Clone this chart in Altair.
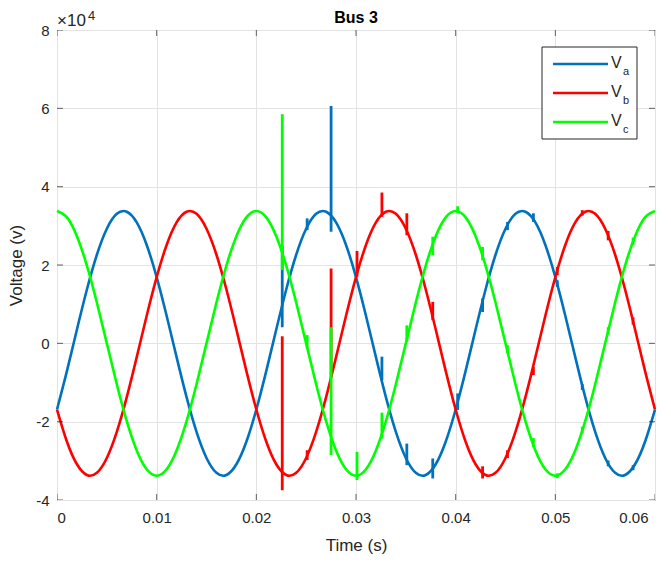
import altair as alt
import pandas as pd

# ---------------- data ----------------
t = [round(i * 0.001, 3) for i in range(61)]

va = [-16900, -7030, 3530, 13750, 22620, 29270, 33060, 33610, 30880, 25120,
      16900, 7030, -3530, -13750, -22620, -29270, -33060, -33610, -30880, -25120,
      -16900, -7030, 3530, 13750, 22620, 29270, 33060, 33610, 30880, 25120,
      16900, 7030, -3530, -13750, -22620, -29270, -33060, -33610, -30880, -25120,
      -16900, -7030, 3530, 13750, 22620, 29270, 33060, 33610, 30880, 25120,
      16900, 7030, -3530, -13750, -22620, -29270, -33060, -33610, -30880, -25120,
      -16900]
vb = [-16900, -25120, -30880, -33610, -33060, -29270, -22620, -13750, -3530, 7030,
      16900, 25120, 30880, 33610, 33060, 29270, 22620, 13750, 3530, -7030,
      -16900, -25120, -30880, -33610, -33060, -29270, -22620, -13750, -3530, 7030,
      16900, 25120, 30880, 33610, 33060, 29270, 22620, 13750, 3530, -7030,
      -16900, -25120, -30880, -33610, -33060, -29270, -22620, -13750, -3530, 7030,
      16900, 25120, 30880, 33610, 33060, 29270, 22620, 13750, 3530, -7030,
      -16900]
vc = [33800, 32150, 27340, 19870, 10440, 0, -10440, -19870, -27340, -32150,
      -33800, -32150, -27340, -19870, -10440, 0, 10440, 19870, 27340, 32150,
      33800, 32150, 27340, 19870, 10440, 0, -10440, -19870, -27340, -32150,
      -33800, -32150, -27340, -19870, -10440, 0, 10440, 19870, 27340, 32150,
      33800, 32150, 27340, 19870, 10440, 0, -10440, -19870, -27340, -32150,
      -33800, -32150, -27340, -19870, -10440, 0, 10440, 19870, 27340, 32150,
      33800]

# switching transients: (time, from, to)
spk_a_t  = [0.0226, 0.0251, 0.0275, 0.0326, 0.0351, 0.0377, 0.0402, 0.0427, 0.0452, 0.0478, 0.0502, 0.0527, 0.0553, 0.0578]
spk_a_y1 = [4100, 28900, 28500, -9400, -31100, -34500, -17000, 8000, 28900, 31000, 14400, -11900, -31400, -32400]
spk_a_y2 = [25000, 31900, 60600, -3400, -25600, -29400, -12800, 11500, 31000, 33200, 16100, -10400, -29900, -31100]

spk_b_t  = [0.0226, 0.0251, 0.0275, 0.0301, 0.0326, 0.0351, 0.0377, 0.0427, 0.0452, 0.0478, 0.0502, 0.0527, 0.0553, 0.0578]
spk_b_y1 = [-37500, -29800, -8750, 17000, 32300, 27600, 5900, -34500, -29300, -8100, 17400, 32600, 26300, 4800]
spk_b_y2 = [1800, -27300, 19100, 23600, 38500, 33200, 10600, -31400, -27300, -6000, 19500, 34000, 28700, 6600]

spk_c_t  = [0.0226, 0.0251, 0.0275, 0.0301, 0.0326, 0.0351, 0.0377, 0.0402, 0.0427, 0.0452, 0.0478, 0.0502, 0.0527, 0.0553, 0.0578]
spk_c_y1 = [18700, -1300, -28500, -34900, -24300, 400, 22500, 33200, 21200, -2500, -26500, -34400, -23000, 2300, 25100]
spk_c_y2 = [58500, 2100, 4100, -27700, -17700, 4600, 27200, 35000, 24600, -500, -24200, -33200, -21300, 4100, 27000]

x_ticks = [0, 0.01, 0.02, 0.03, 0.04, 0.05, 0.06]
y_ticks = [-40000, -20000, 0, 20000, 40000, 60000, 80000]

names = ["a", "b", "c"]
colors = ["#0072BD", "#FF0000", "#00FF00"]
title_text = "Bus 3"

# ---------------- chart ----------------
W, H = 598, 470
FONT = "Liberation Sans"
TXT = "#262626"

xs = alt.Scale(domain=[0, 0.06], nice=False, zero=False)
ys = alt.Scale(domain=[-40000, 80000], nice=False, zero=False)

X = alt.X("t:Q", scale=xs,
          axis=alt.Axis(values=x_ticks, title="Time (s)",
                        labelExpr="datum.value == 0 ? '0' : format(datum.value, '.2f')",
                        labelOffset={"condition": {"test": "datum.value > 0.055", "value": -7}, "value": 0}))
Y = alt.Y("v:Q", scale=ys,
          axis=alt.Axis(values=y_ticks, title="Voltage (v)",
                        labelExpr="'' + (datum.value / 10000)"))

layers = []
series = [va, vb, vc]
spikes = [(spk_a_t, spk_a_y1, spk_a_y2), (spk_b_t, spk_b_y1, spk_b_y2), (spk_c_t, spk_c_y1, spk_c_y2)]
for i in range(3):
    dfl = pd.DataFrame({"t": t, "v": series[i]})
    line = alt.Chart(dfl).mark_line(color=colors[i], strokeWidth=2.6, interpolate="natural").encode(x=X, y=Y)
    st, s1, s2 = spikes[i]
    dfs = pd.DataFrame({"t": st, "v": s1, "v2": s2})
    rule = alt.Chart(dfs).mark_rule(color=colors[i], strokeWidth=2.8).encode(
        x=alt.X("t:Q", scale=xs), y=alt.Y("v:Q", scale=ys), y2="v2:Q")
    layers += [line, rule]

# inward tick marks (MATLAB style), clipped to the plot box
dxt = pd.DataFrame({"t": x_ticks})
dyt = pd.DataFrame({"v": y_ticks})
for yy in [0, H]:
    layers.append(alt.Chart(dxt).mark_tick(orient="vertical", size=12, thickness=1, color=TXT, clip=True)
                  .encode(x=alt.X("t:Q", scale=xs), y=alt.value(yy)))
for xx in [0, W]:
    layers.append(alt.Chart(dyt).mark_tick(orient="horizontal", size=12, thickness=1, color=TXT, clip=True)
                  .encode(y=alt.Y("v:Q", scale=ys), x=alt.value(xx)))

one = pd.DataFrame({"k": [0]})
# title
layers.append(alt.Chart(one).mark_text(text=title_text, align="center", baseline="alphabetic",
                                       font=FONT, fontSize=16, fontWeight="bold", color="black")
              .encode(x=alt.value(W / 2), y=alt.value(-7)))
# exponent label
layers.append(alt.Chart(one).mark_text(text="×10", align="left", baseline="alphabetic",
                                       font=FONT, fontSize=17, color=TXT)
              .encode(x=alt.value(0), y=alt.value(-4)))
layers.append(alt.Chart(one).mark_text(text="4", align="left", baseline="alphabetic",
                                       font=FONT, fontSize=13, color=TXT)
              .encode(x=alt.value(31), y=alt.value(-10)))

# legend box
layers.append(alt.Chart(one).mark_rect(fill="white", stroke=TXT, strokeWidth=1)
              .encode(x=alt.value(485), x2=alt.value(580), y=alt.value(17), y2=alt.value(109)))
leg_y = [34, 63, 92]
for i in range(3):
    layers.append(alt.Chart(one).mark_rule(color=colors[i], strokeWidth=2.6)
                  .encode(x=alt.value(496), x2=alt.value(551), y=alt.value(leg_y[i])))
    layers.append(alt.Chart(one).mark_text(text="V", align="left", baseline="middle",
                                           font=FONT, fontSize=16, color=TXT)
                  .encode(x=alt.value(554), y=alt.value(leg_y[i] - 1)))
    layers.append(alt.Chart(one).mark_text(text=names[i], align="left", baseline="middle",
                                           font=FONT, fontSize=11, color=TXT)
                  .encode(x=alt.value(566), y=alt.value(leg_y[i] + 8)))

chart = alt.layer(*layers).properties(
    width=W, height=H,
    autosize=alt.AutoSizeParams(type="none"),
    padding={"left": 49, "top": 22, "right": 8, "bottom": 55},
).configure_axis(
    labelFont=FONT, labelFontSize=15, labelColor=TXT,
    titleFont=FONT, titleFontSize=17, titleColor=TXT, titleFontWeight="normal",
    domain=False, ticks=False, grid=True, gridColor="#e3e3e3", gridWidth=1,
).configure_axisX(labelPadding=10, titlePadding=12
).configure_axisY(labelPadding=8, titlePadding=10
).configure_view(stroke=TXT, strokeWidth=1)

chart.save("out.html", embed_options={"renderer": "svg", "actions": False})
